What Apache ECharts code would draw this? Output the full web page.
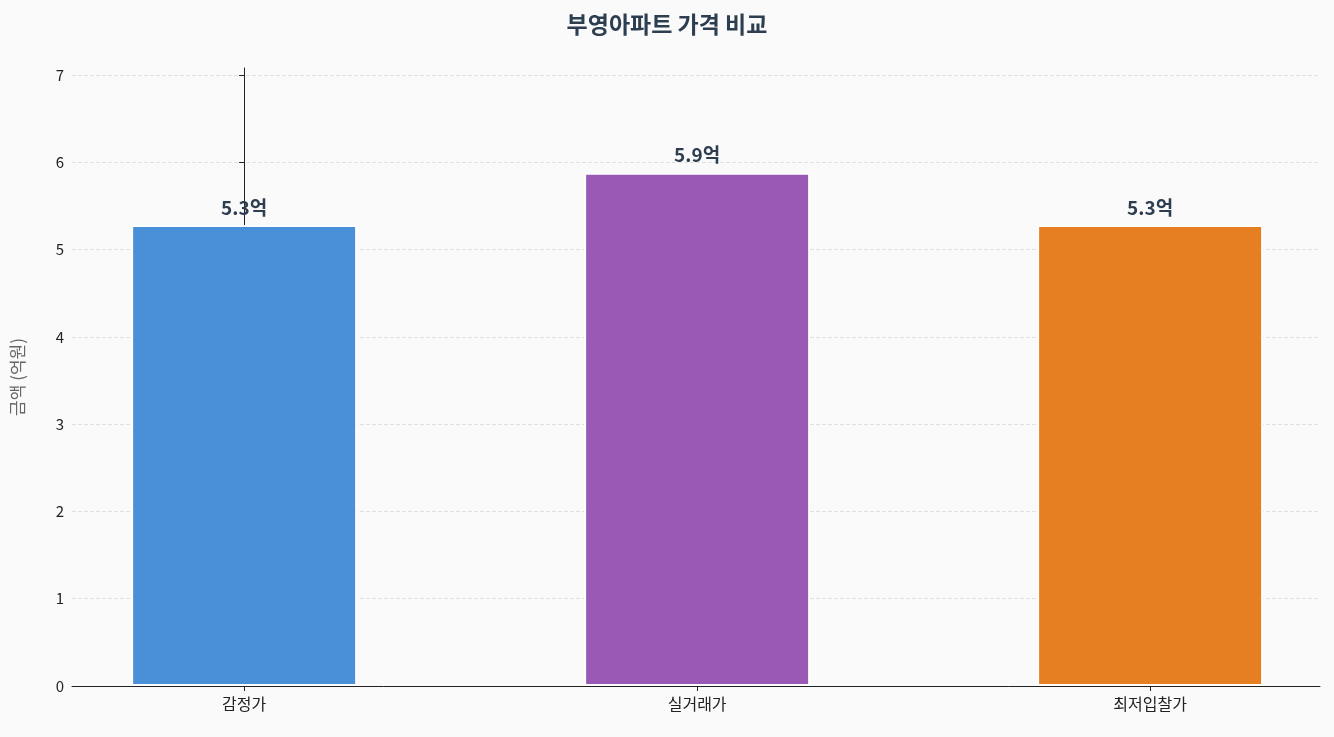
<!DOCTYPE html>
<html><head><meta charset="utf-8">
<script src="https://cdn.jsdelivr.net/npm/echarts@6/dist/echarts.min.js"></script>
<style>html,body{margin:0;background:#fafafa}#c{width:1334px;height:737px}</style>
</head><body><div id="c"></div>
<script>
const categories = ["감정가", "실거래가", "최저입찰가"];
const values = [5.28, 5.88, 5.28];
const labels = ["5.3억", "5.9억", "5.3억"];
const colors = ["#4a90d9", "#9b59b6", "#e67e22"];

const chart = echarts.init(document.getElementById("c"));
const font = "'Noto Sans CJK KR', 'Noto Sans', sans-serif";
chart.setOption({
  backgroundColor: "#fafafa",
  textStyle: { fontFamily: font },
  title: {
    text: "부영아파트 가격 비교", left: "center", top: 8,
    textStyle: { fontSize: 23, fontWeight: "bold", color: "#2c3e50", fontFamily: font }
  },
  grid: { left: 72, right: 14, top: 68, bottom: 51 },
  xAxis: {
    type: "value", min: -0.38, max: 2.375,
    splitLine: { show: false },
    axisLine: { lineStyle: { color: "#222" } },
    axisTick: { show: true, customValues: [0, 1, 2], lineStyle: { color: "#222" } },
    axisLabel: { fontSize: 16, color: "#222", margin: 10, customValues: [0, 1, 2],
      formatter: v => categories[Math.round(v)] || "" }
  },
  yAxis: {
    type: "value", min: 0, max: 7.08, interval: 1,
    name: "금액 (억원)", nameLocation: "middle", nameGap: 46,
    nameTextStyle: { fontSize: 17, color: "#666" },
    axisLine: { show: true, lineStyle: { color: "#222" } },
    axisTick: { show: true, lineStyle: { color: "#222" } },
    axisLabel: { fontSize: 15, color: "#222", showMaxLabel: false },
    splitLine: { showMaxLine: false, lineStyle: { type: "dashed", color: "#e2e2e2" } }
  },
  series: [{
    type: "bar", barWidth: 226,
    data: values.map((v, i) => ({ value: [i, v], itemStyle: { color: colors[i] } })),
    itemStyle: { borderColor: "#fff", borderWidth: 2 },
    label: {
      show: true, position: "top", distance: 8,
      formatter: p => labels[p.dataIndex],
      fontSize: 19, fontWeight: "bold", color: "#2c3e50"
    }
  }]
});
</script></body></html>
